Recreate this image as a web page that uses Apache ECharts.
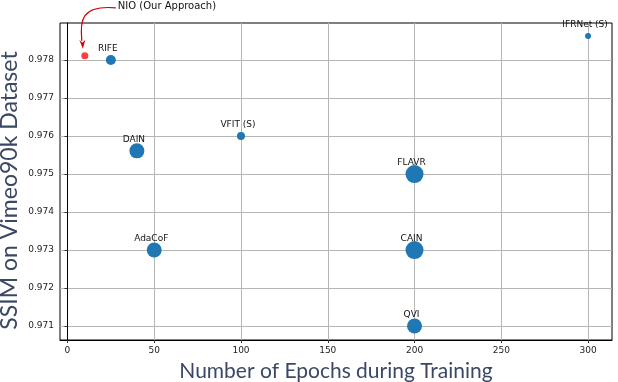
<!DOCTYPE html>
<html>
<head>
<meta charset="utf-8">
<script src="https://cdn.jsdelivr.net/npm/echarts@6/dist/echarts.min.js"></script>
<style>
  html, body { margin: 0; padding: 0; background: #fff; }
  #chart { width: 618px; height: 382px; }
</style>
</head>
<body>
<div id="chart"></div>
<script>
// methods, epochs, ssim, marker diameter
const methods = ['RIFE', 'IFRNet (S)', 'DAIN', 'VFIT (S)', 'FLAVR', 'AdaCoF', 'CAIN', 'QVI'];
const epochs  = [25, 300, 40, 100, 200, 50, 200, 200];
const ssim    = [0.9780, 0.97863, 0.97561, 0.9760, 0.9750, 0.9730, 0.9730, 0.9710];
const sizes   = [10, 6, 15, 8, 18, 15, 18, 15];

const ours = { name: 'NIO (Our Approach)', epochs: 10, ssim: 0.97811, size: 7 };

const xTicks = [0, 50, 100, 150, 200, 250, 300];
const yTicks = [0.971, 0.972, 0.973, 0.974, 0.975, 0.976, 0.977, 0.978];

const tickFont = { fontFamily: 'DejaVu Sans', fontSize: 9, color: '#222' };
const titleColor = '#3a4865';

const chart = echarts.init(document.getElementById('chart'));

const pts = methods.map(function (m, i) {
  return { name: m, value: [epochs[i], ssim[i]], symbolSize: sizes[i] };
});

chart.setOption({
  animation: false,
  grid: {
    left: 60, right: 6, top: 23, bottom: 42,
    outerBoundsMode: 'none', containLabel: false,
    show: true, borderColor: '#000', borderWidth: 1
  },
  xAxis: {
    type: 'value',
    min: -4.3, max: 313.8,
    name: 'Number of Epochs during Training',
    nameLocation: 'middle', nameGap: 21,
    nameTextStyle: { fontFamily: 'Lato', fontSize: 21, color: titleColor },
    axisLine: { show: true, lineStyle: { color: '#000' } },
    axisTick: { show: true, length: 3, customValues: xTicks, lineStyle: { color: '#333' } },
    axisLabel: Object.assign({ margin: 6, customValues: xTicks }, tickFont),
    splitLine: { show: true, lineStyle: { color: '#b5b5b5', width: 1 } }
  },
  yAxis: {
    type: 'value',
    min: 0.970632, max: 0.978974,
    name: 'SSIM on Vimeo90k Dataset',
    nameLocation: 'middle', nameGap: 39, nameMoveOverlap: false,
    nameTextStyle: { fontFamily: 'Lato', fontSize: 23, color: titleColor, padding: [0, 18, 0, 0] },
    axisLine: { show: true, lineStyle: { color: '#000' } },
    axisTick: { show: true, length: 3, customValues: yTicks, lineStyle: { color: '#333' } },
    axisLabel: Object.assign({ margin: 6, customValues: yTicks,
      formatter: function (v) { return v.toFixed(3); } }, tickFont),
    splitLine: { show: true, lineStyle: { color: '#b5b5b5', width: 1 } }
  },
  series: [
    {
      type: 'scatter',
      data: pts,
      itemStyle: { color: '#1f77b4', opacity: 1 },
      label: {
        show: true, position: 'inside', offset: [-3, -11],
        formatter: '{b}', fontFamily: 'DejaVu Sans', fontSize: 9, color: '#111'
      },
      z: 3
    },
    {
      type: 'scatter',
      data: [{ name: ours.name, value: [ours.epochs, ours.ssim], symbolSize: ours.size }],
      itemStyle: { color: '#ff0d0d' },
      z: 4
    }
  ]
});

// annotation arrow pointing at our method
const p = chart.convertToPixel({ seriesIndex: 1 }, [ours.epochs, ours.ssim]);
const px = p[0], py = p[1];
chart.setOption({
  graphic: [
    {
      type: 'text', left: px + 33, top: py - 54,
      style: { text: ours.name, fontFamily: 'DejaVu Sans', fontSize: 10, fill: '#111' }
    },
    {
      type: 'bezierCurve',
      shape: { x1: px + 31, y1: py - 48, cpx1: px - 4, cpy1: py - 51, cpx2: px - 5, cpy2: py - 35, x2: px - 3, y2: py - 15 },
      style: { stroke: '#d00000', lineWidth: 1.2, fill: null }
    },
    {
      type: 'polygon',
      shape: { points: [[px - 2, py - 7], [px - 5.5, py - 16], [px - 2.5, py - 13], [px + 0.5, py - 16]] },
      style: { fill: '#d00000' }
    }
  ]
});
</script>
</body>
</html>
